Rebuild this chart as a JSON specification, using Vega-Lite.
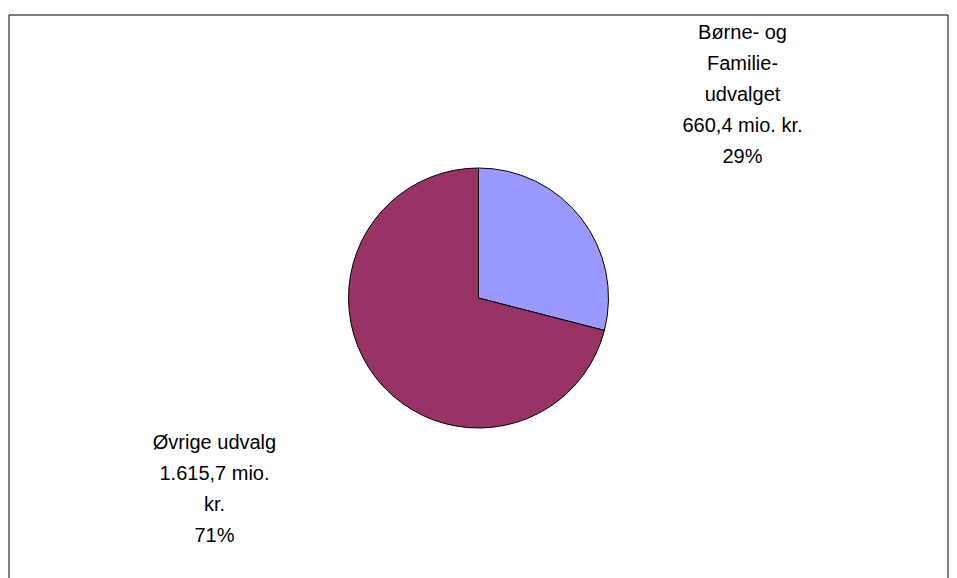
{
  "$schema": "https://vega.github.io/schema/vega-lite/v6.json",
  "width": 957,
  "height": 578,
  "autosize": {"type": "fit", "contains": "padding"},
  "padding": {"left": 8, "top": 14, "right": 8, "bottom": -4},
  "background": "white",
  "config": {"view": {"stroke": null}},
  "data": {
    "values": [
      {"udvalg": "Børne- og Familieudvalget", "value": 660.4, "label": "Børne- og\nFamilie-\nudvalget\n660,4 mio. kr.\n29%"},
      {"udvalg": "Øvrige udvalg", "value": 1615.7, "label": "Øvrige udvalg\n1.615,7 mio.\nkr.\n71%"}
    ]
  },
  "layer": [
    {
      "data": {"values": [{"frame": 1}]},
      "mark": {"type": "rect", "fill": null, "stroke": "black", "strokeWidth": 1},
      "encoding": {
        "x": {"value": 0},
        "x2": {"value": "width"},
        "y": {"value": 0},
        "y2": {"value": "height"}
      }
    },
    {
      "mark": {"type": "arc", "outerRadius": 130, "stroke": "black", "strokeWidth": 1},
      "encoding": {
        "theta": {"field": "value", "type": "quantitative", "stack": true},
        "color": {
          "field": "udvalg",
          "type": "nominal",
          "sort": null,
          "scale": {"domain": ["Børne- og Familieudvalget", "Øvrige udvalg"], "range": ["#9999FF", "#993366"]},
          "legend": null
        }
      }
    },
    {
      "mark": {"type": "text", "radius": 334, "dy": -60, "lineBreak": "\n", "font": "Liberation Sans", "fontSize": 20, "lineHeight": 31, "color": "black", "align": "center", "baseline": "middle"},
      "encoding": {
        "theta": {"field": "value", "type": "quantitative", "stack": true},
        "text": {"field": "label", "type": "nominal"}
      }
    }
  ]
}
